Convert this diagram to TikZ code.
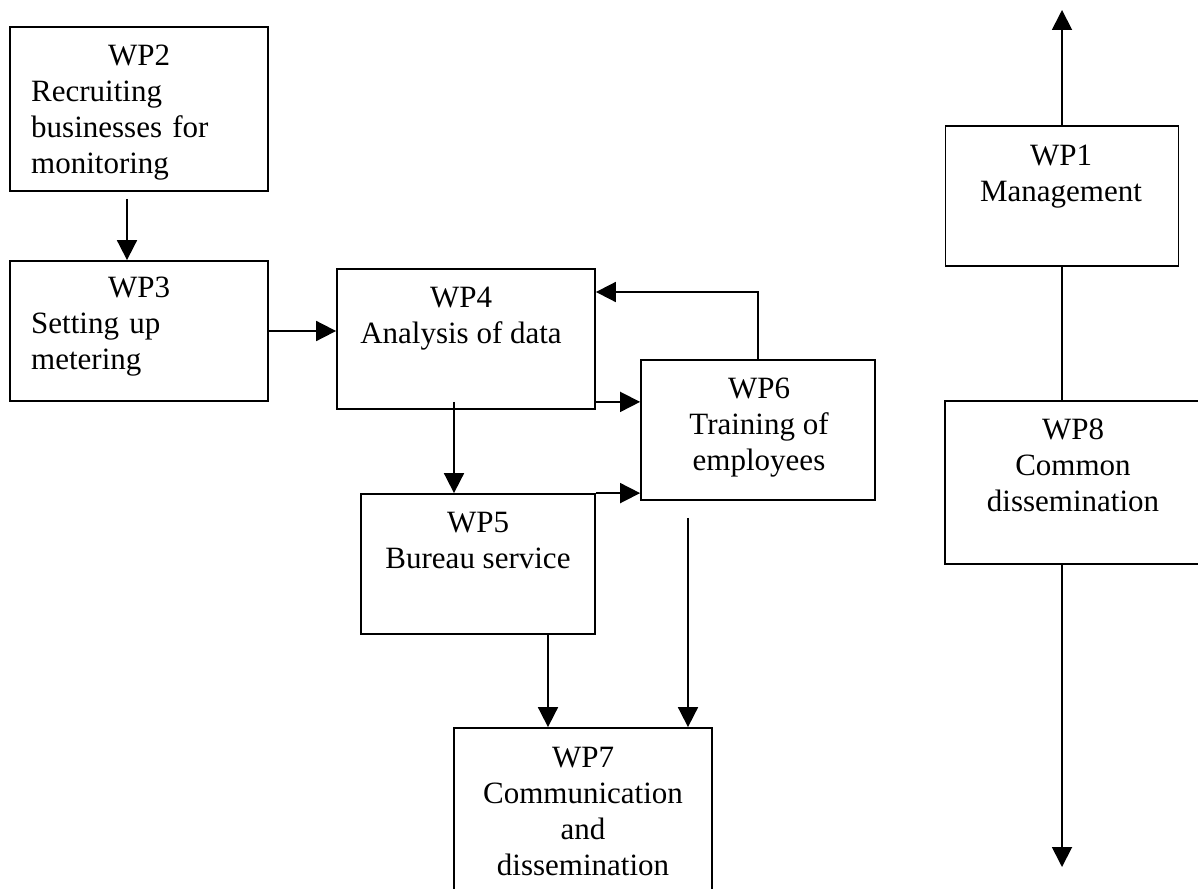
\documentclass[tikz,border=0pt]{standalone}
\usepackage{fontspec}
\setmainfont{Liberation Serif}
\usetikzlibrary{calc}
\usetikzlibrary{arrows.meta}

\tikzset{
  wpbox/.style={draw, line width=1.8pt, inner sep=0pt},
  wptext/.style={font=\fontsize{31}{36}\selectfont, inner sep=0pt, align=center},
  wplink/.style={line width=1.8pt, -{Triangle[length=20pt,width=20pt]}}
}

\begin{document}
\begin{tikzpicture}[x=1pt,y=1pt,yscale=-1,xscale=1]
\useasboundingbox (0,0) rectangle (1198,888);

%Shape: Rectangle [WP2] 
\node[wpbox, minimum width=258pt, minimum height=164pt] (wp2) at (139,109) {};
%Shape: Rectangle [WP3] 
\node[wpbox, minimum width=258pt, minimum height=140pt] (wp3) at (139,331) {};
%Shape: Rectangle [WP4] 
\node[wpbox, minimum width=258pt, minimum height=140pt] (wp4) at (466,339) {};
%Shape: Rectangle [WP5] 
\node[wpbox, minimum width=234pt, minimum height=140pt] (wp5) at (478,564) {};
%Shape: Rectangle [WP6] 
\node[wpbox, minimum width=234pt, minimum height=140pt] (wp6) at (758,430) {};
%Shape: Rectangle [WP7] 
\node[wpbox, minimum width=258pt, minimum height=180pt] (wp7) at (583,818) {};
%Shape: Rectangle [WP1] 
\node[wpbox, minimum width=233pt, minimum height=140pt] (wp1) at (1062,196) {};
%Shape: Rectangle [WP8] 
\node[wpbox, minimum width=256pt, minimum height=163pt] (wp8) at (1073,482.5) {};

\coordinate (up) at (1062,10);
\coordinate (down) at (1062,867);

%Straight Lines 
\draw[wplink] ([xshift=-12pt,yshift=7pt]wp2.south) -- ([xshift=-12pt]wp3.north);
\draw[wplink] (wp3.east) -- (wp3.east -| wp4.west);
\draw[wplink] (wp6.north) |- ([yshift=-47pt]wp4.east);
\draw[wplink] ([yshift=-8pt]wp4.south east) -- ([yshift=-8pt]wp4.south east -| wp6.west);
\draw[wplink] ([xshift=-12pt,yshift=-8pt]wp4.south) -- ([xshift=-12pt]wp4.south |- wp5.north);
\draw[wplink] (wp5.north east) -- (wp5.north east -| wp6.west);
\draw[wplink] ([xshift=70pt]wp5.south) -- ([xshift=70pt]wp5.south |- wp7.north);
\draw[wplink] ([xshift=-70pt,yshift=17pt]wp6.south) -- ([xshift=-70pt]wp6.south |- wp7.north);
\draw[wplink] (wp1.north) -- (up);
\draw[line width=1.8pt] (wp1.south) -- (wp1.south |- wp8.north);
\draw[wplink] (wp1.south |- wp8.south) -- (down);

% Text Node
\node[wptext, anchor=north west, text width=216pt, align=left] (wp2txt) at (31,45) {\makebox[\linewidth]{WP2}\\Recruiting\\businesses for\\monitoring};
% Text Node
\node[wptext, anchor=north west, text width=216pt, align=left] (wp3txt) at (31,277) {\makebox[\linewidth]{WP3}\\Setting up\\metering};
% Text Node
\node[wptext, anchor=north] (wp4txt) at (461,287) {WP4\\Analysis of data};
% Text Node
\node[wptext, anchor=north] (wp5txt) at (478,512) {WP5\\Bureau service};
% Text Node
\node[wptext, anchor=north] (wp6txt) at (759,378) {WP6\\Training of\\employees};
% Text Node
\node[wptext, anchor=north] (wp7txt) at (583,747) {WP7\\Communication\\and\\dissemination};
% Text Node
\node[wptext, anchor=north] (wp1txt) at (1061,145) {WP1\\Management};
% Text Node
\node[wptext, anchor=north] (wp8txt) at (1073,419) {WP8\\Common\\dissemination};

\end{tikzpicture}
\end{document}
